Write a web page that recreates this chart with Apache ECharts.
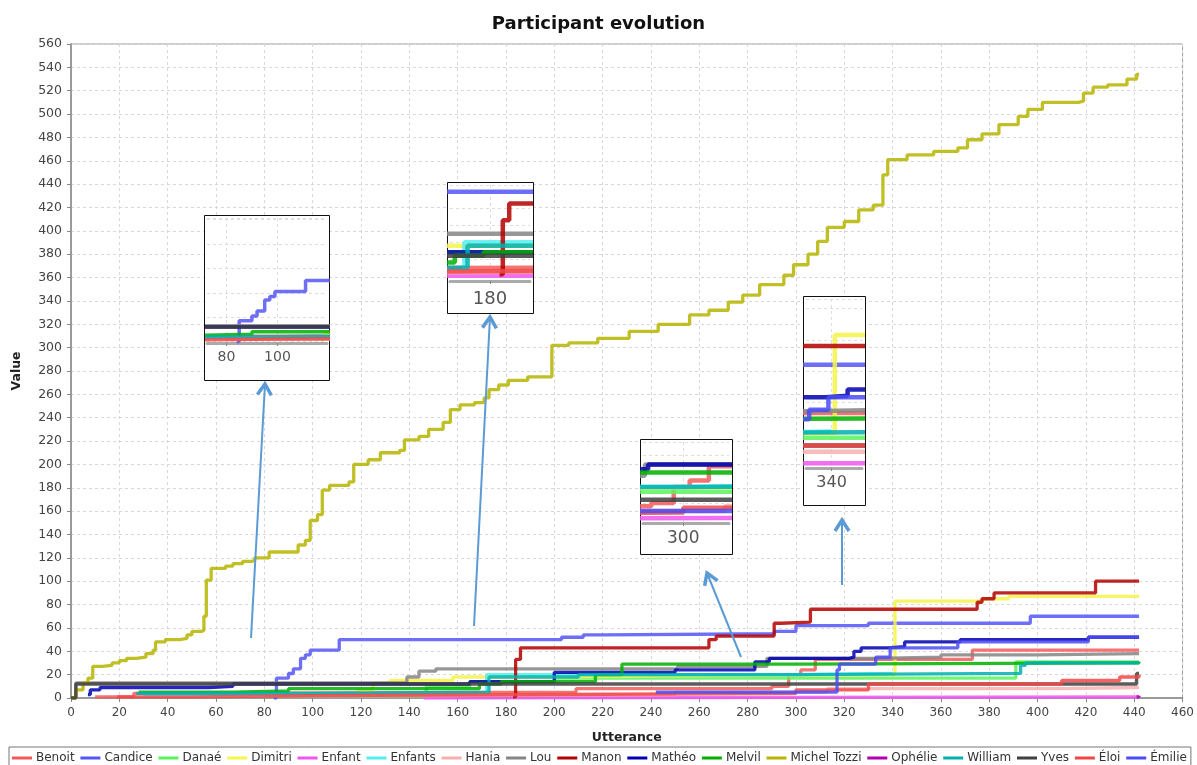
<!DOCTYPE html>
<html><head><meta charset="utf-8">
<script src="https://cdn.jsdelivr.net/npm/echarts@6/dist/echarts.min.js"></script>
<style>html,body{margin:0;padding:0;background:#fff}#c{width:1197px;height:765px}</style>
</head><body><div id="c"></div>
<script>
const names = ['Benoit','Candice','Danaé','Dimitri','Enfant','Enfants','Hania','Lou','Manon','Mathéo','Melvil','Michel Tozzi','Ophélie','William','Yves','Éloi','Émilie'];
const colors = ['#f25a5a','#5555f5','#5cf25c','#f5f54a','#f055f0','#55eef0','#f7b0b0','#858585','#b30000','#0000b0','#00b000','#b5b500','#b000b0','#00b0b0','#404040','#f24646','#4b4bf5'];
const xTickLabels = [0,20,40,60,80,100,120,140,160,180,200,220,240,260,280,300,320,340,360,380,400,420,440,460];
const yTickLabels = [0,20,40,60,80,100,120,140,160,180,200,220,240,260,280,300,320,340,360,380,400,420,440,460,480,500,520,540,560];

const benoit  = [[10,1],[26,4],[46,5],[209,8],[290,10],[297,20],[302,24],[308,33],[373,41],[442,41]];
const candice = [[84,0],[85,17],[90,21],[92,25],[95,34],[97,37],[99,41],[111,50],[203,52],[212,54],[221,55],[291,57],[300,62],[330,64],[397,70],[442,70]];
const danae   = [[85,2],[147,10],[165,14],[200,17],[391,31],[442,31]];
const dimitri = [[118,7],[125,13],[132,15],[158,18],[200,19],[250,20],[341,83],[377,85],[388,87],[442,87]];
const enfant  = [[146,0],[147,1],[442,1]];
const enfants = [[30,3],[172,20],[300,21],[340,21]];
const hania   = [[80,2],[150,3],[250,5],[313,8],[410,9],[442,9]];
const lou     = [[0,0],[2,13],[139,18],[144,23],[151,25],[251,27],[288,34],[333,35],[360,37],[400,38],[442,38]];
const manon   = [[183,1],[184,33],[186,43],[264,50],[267,53],[291,64],[294,65],[306,76],[375,82],[377,85],[382,90],[424,100],[442,100]];
const matheo  = [[7,3],[8,7],[12,9],[57,10],[67,12],[165,14],[200,22],[250,24],[283,31],[289,34],[322,35],[324,40],[327,43],[338,44],[345,48],[368,50],[421,52],[442,52]];
const melvil  = [[28,5],[67,6],[90,8],[169,12],[178,14],[217,20],[228,29],[300,30],[442,31]];
const michel  = [[0,0],[2,7],[5,13],[7,17],[9,27],[13,28],[17,30],[20,32],[23,34],[27,35],[31,38],[34,41],[35,48],[39,50],[45,51],[48,54],[50,57],[54,58],[55,70],[56,101],[58,111],[64,113],[67,115],[71,117],[75,118],[76,120],[82,125],[94,131],[97,135],[99,152],[102,157],[104,178],[107,182],[115,185],[117,200],[123,204],[128,210],[136,212],[138,221],[144,224],[148,230],[154,236],[157,247],[161,251],[167,253],[171,257],[173,264],[177,268],[181,272],[189,275],[199,302],[206,304],[218,308],[231,314],[243,320],[256,328],[264,332],[272,339],[278,345],[285,354],[295,362],[299,371],[305,380],[309,391],[313,403],[320,408],[326,418],[332,422],[336,448],[338,461],[346,465],[357,468],[367,471],[371,478],[377,483],[384,491],[392,498],[396,504],[402,510],[417,511],[419,518],[423,523],[429,525],[437,530],[441,534],[442,534]];
const ophelie = [[441,1],[442,2]];
const william = [[27,4],[100,5],[173,18],[210,20],[300,21],[393,28],[395,30],[442,30]];
const yves    = [[0,0],[2,12],[441,21],[442,21]];
const eloi    = [[19,1],[50,2],[100,3],[200,4],[300,7],[330,12],[410,15],[434,18],[442,20]];
const emilie  = [[242,5],[317,24],[318,29],[333,35],[339,43],[367,48],[421,52],[442,52]];
const seriesData = [benoit,candice,danae,dimitri,enfant,enfants,hania,lou,manon,matheo,melvil,michel,ophelie,william,yves,eloi,emilie];

// inset zoom boxes (layout only)
const insets = [
  {box:[204.5,215.5,125,165], grid:[207,218,120,125], x:[72.4,119.4], y:[-1.2,101.3], labels:[80,100], fs:14, margin:7, lw:3.5},
  {box:[447.5,182.5,86,131], grid:[450,185,80,96], x:[167.5,192.5], y:[-3,54], labels:[180], fs:18, margin:9, lw:4.5},
  {box:[640.5,439.5,92,115], grid:[643,442,86,81], x:[287.4,314.3], y:[-2.5,48.1], labels:[300], fs:17, margin:7, lw:4.5},
  {box:[803.5,296.5,62,209], grid:[806,299,56,169], x:[332,349.5], y:[-2.4,106.2], labels:[340], fs:16, margin:7, lw:4.5}
];
const arrows = [[251,638,265,384],[474,626,490,317],[741,657,707,573],[842,585,842,520]];

const chart = echarts.init(document.getElementById('c'), null, {renderer:'canvas'});
const FONT = 'DejaVu Sans';
const grids = [{left:71, right:9, top:44, bottom:67, show:true, borderColor:'#9a9a9a', borderWidth:1, backgroundColor:'#fff'}];
const xAxes = [{gridIndex:0, type:'value', min:0, max:460, interval:20,
  axisLine:{show:true, onZero:false, lineStyle:{color:'#888', width:1.5}},
  axisTick:{show:true, length:4, lineStyle:{color:'#888'}},
  axisLabel:{color:'#444', fontSize:12, fontFamily:FONT, margin:9, formatter:v=>xTickLabels.includes(v)?String(v):''},
  splitLine:{show:true, lineStyle:{type:[3,3], color:'#d8d8d8'}},
  name:'Utterance', nameLocation:'middle', nameGap:33, nameTextStyle:{fontFamily:FONT, fontWeight:'bold', fontSize:12.5, color:'#222'}}];
const yAxes = [{gridIndex:0, type:'value', min:0, max:560, interval:20,
  axisLine:{show:true, onZero:false, lineStyle:{color:'#888', width:1.5}},
  axisTick:{show:true, length:4, lineStyle:{color:'#888'}},
  axisLabel:{color:'#444', fontSize:12.5, fontFamily:FONT, margin:9, formatter:v=>yTickLabels.includes(v)?String(v):''},
  splitLine:{show:true, lineStyle:{type:[3,3], color:'#d8d8d8'}},
  name:'Value', nameLocation:'middle', nameGap:48, nameTextStyle:{fontFamily:FONT, fontWeight:'bold', fontSize:12.5, color:'#222'}}];
const graphics = [];
insets.forEach((ins,i)=>{
  const gi = i+1;
  graphics.push({type:'rect', z:10, shape:{x:ins.box[0], y:ins.box[1], width:ins.box[2], height:ins.box[3]}, style:{fill:'#fff', stroke:'#111', lineWidth:1}});
  grids.push({left:ins.grid[0], top:ins.grid[1], width:ins.grid[2], height:ins.grid[3], show:false, z:11});
  xAxes.push({gridIndex:gi, type:'value', min:ins.x[0], max:ins.x[1], z:11,
    axisLine:{show:true, onZero:false, lineStyle:{color:'#aaa', width:3}},
    axisTick:{show:true, customValues:ins.labels, length:3, inside:false, lineStyle:{color:'#888'}},
    axisLabel:{customValues:ins.labels, color:'#555', fontSize:ins.fs, fontFamily:FONT, margin:ins.margin},
    splitLine:{show:true, lineStyle:{type:[3,3], color:'#dedede'}}});
  yAxes.push({gridIndex:gi, type:'value', min:ins.y[0], max:ins.y[1], z:11,
    axisLine:{show:false}, axisTick:{show:false}, axisLabel:{show:false},
    splitLine:{show:true, lineStyle:{type:[3,3], color:'#dedede'}}});
});
arrows.forEach(a=>{
  const [x1,y1,x2,y2]=a; const dx=x2-x1, dy=y2-y1, L=Math.hypot(dx,dy); const ux=dx/L, uy=dy/L; const px=-uy, py=ux;
  const h=11, w=7;
  graphics.push({type:'line', z:20, shape:{x1,y1,x2,y2}, style:{stroke:'#5b9bd5', lineWidth:2}});
  graphics.push({type:'polyline', z:20, shape:{points:[[x2-h*ux+w*px, y2-h*uy+w*py],[x2,y2],[x2-h*ux-w*px, y2-h*uy-w*py]]}, style:{stroke:'#5b9bd5', lineWidth:3.5, fill:null}});
});

const series = [];
for (let g=0; g<5; g++) {
  const lw = g===0 ? 3.3 : insets[g-1].lw;
  names.forEach((n,i)=>{
    series.push({type:'line', name:n, data:seriesData[i], xAxisIndex:g, yAxisIndex:g, step:'end',
      showSymbol:false, symbol:'none', z: g===0?2:12, clip:true, silent:true, animation:false,
      lineStyle:{width:lw, color:colors[i], opacity:0.85}, itemStyle:{color:colors[i]}});
  });
}

chart.setOption({
  backgroundColor:'#fff', animation:false,
  title:{text:'Participant evolution', left:'center', top:10, textStyle:{fontFamily:FONT, fontWeight:'bold', fontSize:18, color:'#111'}},
  legend:{data:names, top:747, left:9, width:1190, icon:'rect', itemWidth:20, itemHeight:3, itemGap:5.8,
    borderColor:'#777', borderWidth:1, padding:[5,4,6,3],
    textStyle:{fontFamily:FONT, fontSize:12, color:'#333', padding:[0,0,0,-1]}},
  grid:grids, xAxis:xAxes, yAxis:yAxes, series, graphic:graphics
});
</script></body></html>
